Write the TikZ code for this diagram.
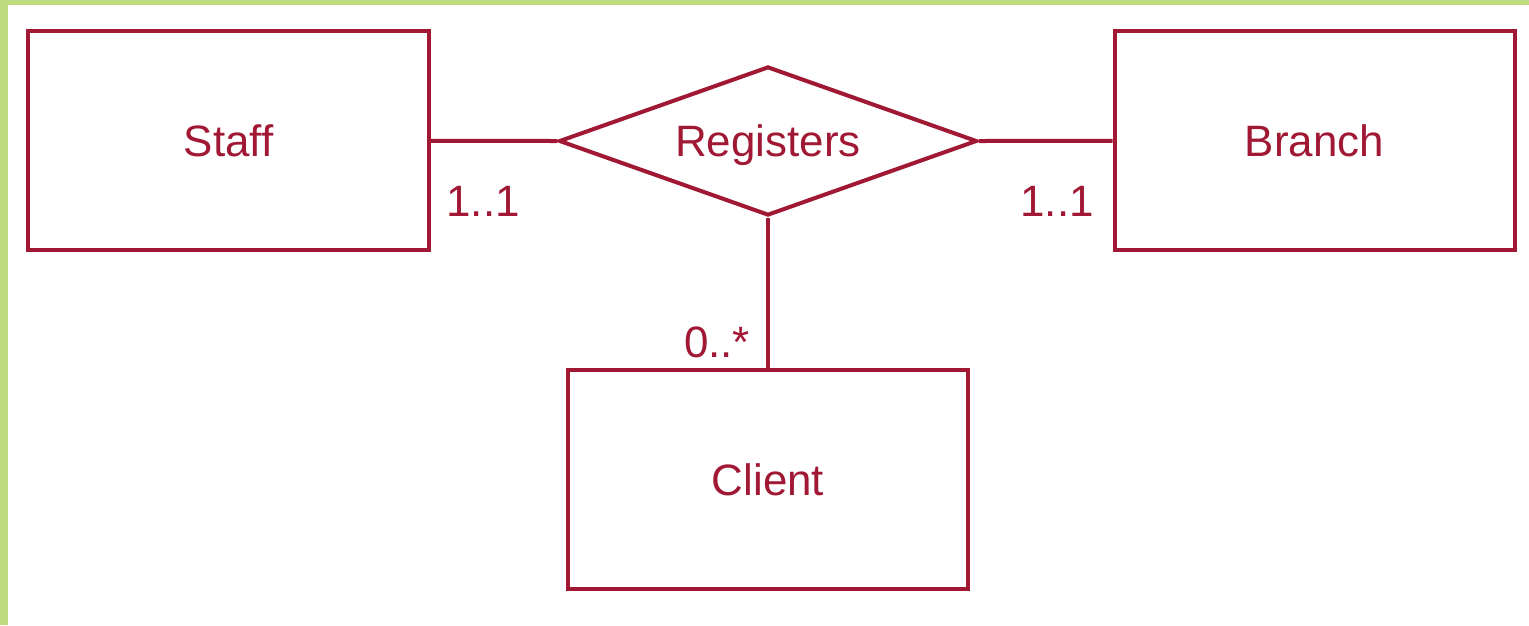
\documentclass[tikz,border=0pt]{standalone}
\usepackage{fontspec}
\setmainfont{Liberation Sans}
\usetikzlibrary{shapes.geometric}
\definecolor{erred}{RGB}{160,24,52}
\definecolor{framegreen}{RGB}{190,220,125}
\tikzset{
	entity/.style={draw=erred,line width=0.8mm,minimum width=80mm,minimum height=43.8mm,inner sep=0pt,text=erred,font=\fontsize{25}{30}\selectfont},
	relation/.style={diamond,draw=erred,line width=0.8mm,minimum width=83.6mm,minimum height=29.8mm,aspect=2.8,inner sep=0pt,text depth=0pt,text=erred,font=\fontsize{25}{30}\selectfont},
	mult/.style={text=erred,inner sep=0pt,font=\fontsize{25}{30}\selectfont},
	link/.style={draw=erred,line width=0.8mm}
}
\begin{document}
\begin{tikzpicture}[x=0.2mm,y=-0.2mm]
	% frame
	\fill[framegreen] (0,0) rectangle (1529,625);
	\fill[white] (8,5) rectangle (1529,625);
	\useasboundingbox (0,0) rectangle (1529,625);
	% entities and relationship
	\node[entity] (staff) at (228.5,140.5) {Staff};
	\node[entity] (branch) at (1314.5,140.5) {Branch};
	\node[entity] (client) at (768,479.5) {Client};
	\node[relation] (registers) at (768,141) {Registers};
	% links
	\draw[link] (staff) -- (registers.west);
	\draw[link] (registers.east) -- (branch);
	\draw[link] (registers.south) -- (client);
	% multiplicities
	\node[mult] (staffmult) at (483,201) {1..1};
	\node[mult] (branchmult) at (1057,201) {1..1};
	\node[mult] (clientmult) at (717,342) {0..*};
\end{tikzpicture}
\end{document}
